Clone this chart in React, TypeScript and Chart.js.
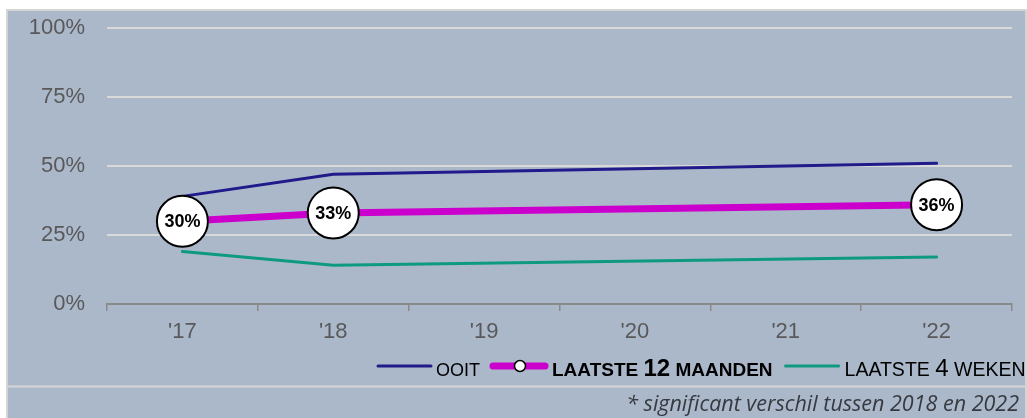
import React, { useEffect, useRef } from "react";
import { Chart, registerables } from "chart.js";

Chart.register(...registerables);

const categories = ["'17", "'18", "'19", "'20", "'21", "'22"];
const ooitValues = [39, 47, null, null, null, 51];
const maanden12Values = [30, 33, null, null, null, 36];
const weken4Values = [19, 14, null, null, null, 17];
const yTickValues = [0, 25, 50, 75, 100];
const seriesNames = ["OOIT", "LAATSTE 12 MAANDEN", "LAATSTE 4 WEKEN"];
const footnote = "* significant verschil tussen 2018 en 2022";

const W = 1027;
const H = 418;
const BG = "#abb8ca";
const NAVY = "#201a8a";
const MAGENTA = "#cc00cc";
const TEAL = "#0e9a80";
const FONT = "'Liberation Sans', Arial, sans-serif";

const framePlugin = {
  id: "frame",
  beforeDraw(chart: any) {
    const c = chart.ctx;
    c.save();
    c.fillStyle = "#ffffff";
    c.fillRect(0, 0, W, H);
    c.fillStyle = BG;
    c.fillRect(6, 9, W - 6, H - 9);
    c.strokeStyle = "#d5d5d5";
    c.lineWidth = 2;
    c.beginPath();
    c.moveTo(7, H);
    c.lineTo(7, 10);
    c.lineTo(1026, 10);
    c.lineTo(1026, H);
    c.stroke();
    c.beginPath();
    c.moveTo(6, 386.5);
    c.lineTo(W, 386.5);
    c.stroke();
    c.restore();
  },
};

const labelPlugin = {
  id: "circleLabels",
  afterDatasetsDraw(chart: any) {
    const c = chart.ctx;
    const meta = chart.getDatasetMeta(1);
    const data = chart.data.datasets[1].data;
    c.save();
    c.fillStyle = "#000000";
    c.font = `bold 18px ${FONT}`;
    c.textAlign = "center";
    c.textBaseline = "middle";
    meta.data.forEach((pt: any, i: number) => {
      const v = data[i];
      if (v === null || v === undefined) return;
      c.fillText(`${Math.round(v)}%`, pt.x, pt.y + 1);
    });
    c.restore();
  },
};

function drawMixed(c: CanvasRenderingContext2D, text: string, x: number, y: number, weight: string, small: number, big: number) {
  const runs = text.match(/\d+|\D+/g) || [];
  let cx = x;
  for (const r of runs) {
    const size = /\d/.test(r) ? big : small;
    c.font = `${weight} ${size}px ${FONT}`;
    c.fillText(r, cx, y);
    cx += c.measureText(r).width;
  }
  return cx;
}

const legendPlugin = {
  id: "customLegend",
  afterDraw(chart: any) {
    const c = chart.ctx;
    c.save();
    const ly = 366;
    const base = 376;
    c.textBaseline = "alphabetic";
    c.textAlign = "left";
    c.fillStyle = "#000000";
    c.lineCap = "round";
    let x = 378;
    // OOIT
    c.strokeStyle = NAVY;
    c.lineWidth = 3;
    c.beginPath();
    c.moveTo(x, ly);
    c.lineTo(x + 53, ly);
    c.stroke();
    x += 58;
    x = drawMixed(c, seriesNames[0], x, base, "normal", 18, 23);
    x += 13;
    // 12 maanden
    c.strokeStyle = MAGENTA;
    c.lineWidth = 7;
    c.beginPath();
    c.moveTo(x, ly);
    c.lineTo(x + 52, ly);
    c.stroke();
    c.beginPath();
    c.fillStyle = "#ffffff";
    c.strokeStyle = "#000000";
    c.lineWidth = 1.5;
    c.arc(x + 27, ly, 5.5, 0, Math.PI * 2);
    c.fill();
    c.stroke();
    c.fillStyle = "#000000";
    x += 59;
    x = drawMixed(c, seriesNames[1], x, base, "bold", 19, 24);
    x += 13;
    // 4 weken
    c.strokeStyle = TEAL;
    c.lineWidth = 3;
    c.beginPath();
    c.moveTo(x, ly);
    c.lineTo(x + 53, ly);
    c.stroke();
    x += 59;
    drawMixed(c, seriesNames[2], x, base, "normal", 19.5, 24);
    // footnote
    c.font = `italic 21.5px 'Open Sans', sans-serif`;
    c.fillStyle = "#363a40";
    c.textAlign = "right";
    c.fillText(footnote, 1019, 411);
    c.restore();
  },
};

export default function App() {
  const ref = useRef<HTMLCanvasElement>(null);
  useEffect(() => {
    const chart = new Chart(ref.current as HTMLCanvasElement, {
      type: "line",
      data: {
        labels: categories,
        datasets: [
          {
            label: seriesNames[0],
            data: ooitValues,
            borderColor: NAVY,
            borderWidth: 3,
            pointRadius: 0,
            spanGaps: true,
            borderCapStyle: "round",
            order: 1,
          },
          {
            label: seriesNames[1],
            data: maanden12Values,
            borderColor: MAGENTA,
            borderWidth: 7,
            pointRadius: 25.5,
            pointBackgroundColor: "#ffffff",
            pointBorderColor: "#000000",
            pointBorderWidth: 2,
            spanGaps: true,
            borderCapStyle: "round",
            order: -1,
          },
          {
            label: seriesNames[2],
            data: weken4Values,
            borderColor: TEAL,
            borderWidth: 3,
            pointRadius: 0,
            spanGaps: true,
            borderCapStyle: "round",
            order: 2,
          },
        ],
      },
      options: {
        animation: false,
        responsive: false,
        devicePixelRatio: 1,
        layout: { autoPadding: false, padding: { left: 0, top: 28, right: 15, bottom: 0 } },
        plugins: {
          legend: { display: false },
          tooltip: { enabled: false },
        },
        scales: {
          x: {
            offset: true,
            grid: {
              offset: true,
              drawOnChartArea: false,
              drawTicks: true,
              tickLength: 7,
              color: "#8a8a8a",
              lineWidth: 1.5,
            },
            border: { display: true, color: "#8a8a8a", width: 2 },
            ticks: {
              color: "#595959",
              font: { family: FONT, size: 22 },
              padding: 8,
              maxRotation: 0,
            },
            afterFit: (s: any) => {
              s.height = 114;
              s.paddingLeft = 0;
              s.paddingRight = 0;
              s.paddingTop = 0;
              s.paddingBottom = 0;
            },
          },
          y: {
            min: 0,
            max: 100,
            afterBuildTicks: (s: any) => {
              s.ticks = yTickValues.map((v) => ({ value: v }));
            },
            grid: {
              drawTicks: false,
              color: (ctx: any) => (ctx.tick && ctx.tick.value === 0 ? "rgba(0,0,0,0)" : "#d9d9d9"),
              lineWidth: 2,
            },
            border: { display: false },
            ticks: {
              color: "#595959",
              font: { family: FONT, size: 22 },
              padding: 22,
              callback: (v: any) => `${v}%`,
            },
            afterFit: (s: any) => {
              s.width = 107;
              s.paddingLeft = 0;
              s.paddingRight = 0;
              s.paddingTop = 0;
              s.paddingBottom = 0;
            },
          },
        },
      },
      plugins: [framePlugin, labelPlugin, legendPlugin],
    } as any);
    return () => chart.destroy();
  }, []);
  return (
    <div style={{ position: "absolute", left: 0, top: 0, width: W, height: H }}>
      <canvas ref={ref} width={W} height={H} style={{ display: "block", width: W, height: H }} />
    </div>
  );
}
